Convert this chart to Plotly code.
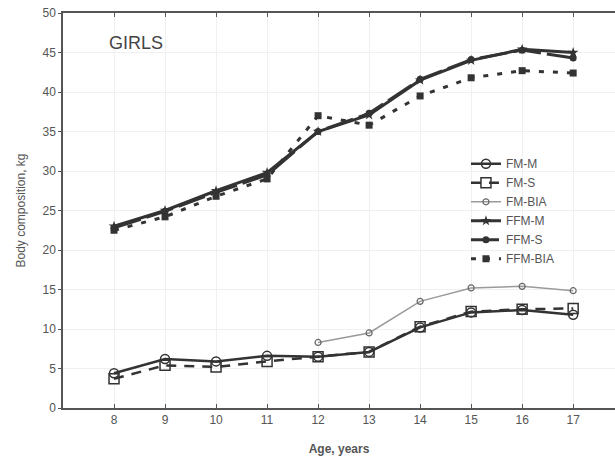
import plotly.graph_objects as go

ages = [8, 9, 10, 11, 12, 13, 14, 15, 16, 17]
fm_m = [4.4, 6.2, 5.9, 6.6, 6.5, 7.1, 10.2, 12.1, 12.4, 11.8]
fm_s = [3.7, 5.4, 5.2, 5.9, 6.5, 7.1, 10.3, 12.2, 12.5, 12.6]
fm_bia = [None, None, None, None, 8.3, 9.5, 13.5, 15.2, 15.4, 14.85]
ffm_m = [23.0, 25.0, 27.5, 29.8, 35.0, 37.1, 41.5, 44.0, 45.4, 45.0]
ffm_s = [22.8, 24.9, 27.3, 29.5, 35.0, 37.3, 41.6, 44.1, 45.3, 44.3]
ffm_bia = [22.5, 24.2, 26.8, 29.0, 37.0, 35.8, 39.5, 41.8, 42.7, 42.4]

y_ticks = [0, 5, 10, 15, 20, 25, 30, 35, 40, 45, 50]

dark = "#333333"
fig = go.Figure()
fig.add_trace(go.Scatter(x=ages, y=fm_m, name="FM-M", mode="lines+markers",
                         line=dict(color=dark, width=2.5),
                         marker=dict(symbol="circle-open", size=9, color=dark, line=dict(width=1.5))))
fig.add_trace(go.Scatter(x=ages, y=fm_s, name="FM-S", mode="lines+markers",
                         line=dict(color=dark, width=2.5, dash="10px,8px"),
                         marker=dict(symbol="square-open", size=10, color=dark, line=dict(width=1.5))))
fig.add_trace(go.Scatter(x=ages, y=fm_bia, name="FM-BIA", mode="lines+markers",
                         line=dict(color="#9a9a9a", width=1.5),
                         marker=dict(symbol="circle-open", size=6, color="#666", line=dict(width=1.2))))
fig.add_trace(go.Scatter(x=ages, y=ffm_m, name="FFM-M", mode="lines+markers",
                         line=dict(color=dark, width=3),
                         marker=dict(symbol="star", size=8, color=dark)))
fig.add_trace(go.Scatter(x=ages, y=ffm_s, name="FFM-S", mode="lines+markers",
                         line=dict(color=dark, width=3, dash="28px,6px"),
                         marker=dict(symbol="circle", size=7, color=dark)))
fig.add_trace(go.Scatter(x=ages, y=ffm_bia, name="FFM-BIA", mode="lines+markers",
                         line=dict(color=dark, width=3, dash="5px,9px"),
                         marker=dict(symbol="square", size=7, color=dark)))

fig.add_annotation(x=0.08, y=0.924, xref="paper", yref="paper", text="GIRLS",
                   showarrow=False, xanchor="left", yanchor="middle",
                   font=dict(family="Liberation Sans, Arial", size=18, color="#444"))

fig.update_layout(
    width=615, height=458,
    margin=dict(l=63, r=0, t=13, b=50),
    paper_bgcolor="white", plot_bgcolor="white",
    font=dict(family="Liberation Sans, Arial", size=12, color="#555"),
    legend=dict(x=0.73, y=0.655, xanchor="left", yanchor="top",
                bgcolor="rgba(0,0,0,0)", font=dict(size=12, color="#555"),
                tracegroupgap=0, itemwidth=30),
    xaxis=dict(range=[7, 17.82], tickvals=ages, ticks="inside", ticklen=4,
               tickcolor="#555", showline=True, linecolor="#555", linewidth=1.5,
               mirror="ticks", showgrid=True, gridcolor="#f0f0f0", zeroline=False,
               title=dict(text="<b>Age, years</b>", font=dict(size=12, color="#555"), standoff=18)),
    yaxis=dict(range=[0, 50], tickvals=y_ticks, ticks="outside", ticklen=3,
               tickcolor="#555", showline=True, linecolor="#555", linewidth=1.5,
               showgrid=True, gridcolor="#f0f0f0", zeroline=False,
               title=dict(text="Body composition, kg", font=dict(size=12, color="#555"), standoff=14)),
)

fig.write_html("out.html", config={"displayModeBar": False},
               post_script="document.body.style.margin='0';document.body.style.overflow='hidden';")
